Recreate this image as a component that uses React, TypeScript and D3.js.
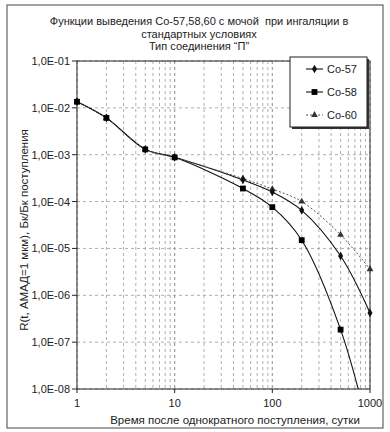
import React from 'react';
import * as d3 from 'd3';

const days = [1, 2, 5, 10, 50, 100, 200, 500, 1000];
const co57 = [0.0135, 0.0061, 0.0013, 0.00088, 2.9e-4, 1.6e-4, 6.5e-5, 6.9e-6, 4.2e-7];
const co58 = [0.0135, 0.0061, 0.0013, 0.00088, 1.9e-4, 7.6e-5, 1.5e-5, 1.85e-7, 1e-9];
const co60 = [0.0135, 0.0061, 0.0013, 0.00088, 3.1e-4, 1.85e-4, 1.0e-4, 1.95e-5, 3.6e-6];
const seriesNames = ['Co-57', 'Co-58', 'Co-60'];
const yTickLabels = ['1,0E-01', '1,0E-02', '1,0E-03', '1,0E-04', '1,0E-05', '1,0E-06', '1,0E-07', '1,0E-08'];
const xTickLabels = ['1', '10', '100', '1000'];
const titleLines = [
  'Функции выведения Co-57,58,60 с мочой  при ингаляции в',
  'стандартных условиях',
  'Тип соединения “П”',
];
const xTitle = 'Время после однократного поступления, сутки';
const yTitle = 'R(t, АМАД=1 мкм), Бк/Бк поступления';

const W = 390;
const H = 432;
const plot = { left: 77, right: 370, top: 61, bottom: 389 };
const font = '"Liberation Sans", Arial, sans-serif';

const App = () => {
  const x = d3.scaleLog().domain([1, 1000]).range([plot.left, plot.right]);
  const y = d3.scaleLog().domain([1e-8, 1e-1]).range([plot.bottom, plot.top]);

  const line = d3
    .line<number>()
    .x((_, i) => x(days[i]))
    .y(d => y(d))
    .curve(d3.curveCatmullRom);

  const minorX: number[] = [];
  [1, 10, 100].forEach(dec => {
    for (let k = 1; k <= 10; k++) minorX.push(dec * k);
  });
  const decadesY = yTickLabels.map((_, i) => Math.pow(10, -1 - i));

  const diamond = d3.symbol().type(d3.symbolDiamond).size(22)() as string;
  const square = d3.symbol().type(d3.symbolSquare).size(34)() as string;
  const triangle = d3.symbol().type(d3.symbolTriangle).size(20)() as string;

  const series = [
    { name: seriesNames[0], data: co57, stroke: '#111', dash: null, width: 1.1, marker: diamond, fill: '#111' },
    { name: seriesNames[1], data: co58, stroke: '#111', dash: null, width: 1.1, marker: square, fill: '#000' },
    { name: seriesNames[2], data: co60, stroke: '#555', dash: '2,2', width: 1, marker: triangle, fill: '#333' },
  ];

  return (
    <svg
      width={W}
      height={H}
      style={{ position: 'absolute', left: 0, top: 0, background: '#fff' }}
      fontFamily={font}
    >
      <defs>
        <clipPath id="plotClip">
          <rect x={plot.left} y={plot.top} width={plot.right - plot.left} height={plot.bottom - plot.top} />
        </clipPath>
      </defs>

      {/* outer frame */}
      <rect x={7} y={5} width={376} height={423} fill="none" stroke="#444" strokeWidth={1} />

      {/* title */}
      {titleLines.map((t, i) => (
        <text
          key={t}
          x={199}
          y={25 + i * 12.7}
          textAnchor="middle"
          fontSize={11}
          fill="#222"
          style={{ whiteSpace: 'pre' }}
        >
          {t}
        </text>
      ))}

      {/* grid */}
      <g stroke="#999" strokeWidth={0.8} strokeDasharray="3,3">
        {minorX.map(v => (
          <line key={'gx' + v} x1={x(v)} x2={x(v)} y1={plot.top} y2={plot.bottom} />
        ))}
        {decadesY.map(v => (
          <line key={'gy' + v} x1={plot.left} x2={plot.right} y1={y(v)} y2={y(v)} />
        ))}
      </g>

      {/* plot border */}
      <rect
        x={plot.left}
        y={plot.top}
        width={plot.right - plot.left}
        height={plot.bottom - plot.top}
        fill="none"
        stroke="#222"
        strokeWidth={1}
      />

      {/* y axis ticks */}
      {decadesY.map((v, i) => (
        <g key={'ty' + i}>
          <line x1={plot.left - 5} x2={plot.left} y1={y(v)} y2={y(v)} stroke="#222" />
          <text x={plot.left - 7} y={y(v) + 4} textAnchor="end" fontSize={11} fill="#222">
            {yTickLabels[i]}
          </text>
        </g>
      ))}

      {/* x axis ticks */}
      {xTickLabels.map(t => (
        <g key={'tx' + t}>
          <line x1={x(+t)} x2={x(+t)} y1={plot.bottom} y2={plot.bottom + 4} stroke="#222" />
          <text x={x(+t)} y={plot.bottom + 18} textAnchor="middle" fontSize={11} fill="#222">
            {t}
          </text>
        </g>
      ))}

      <text x={235} y={424} textAnchor="middle" fontSize={11.5} fill="#222">
        {xTitle}
      </text>
      <text
        transform={`translate(28 ${230}) rotate(-90)`}
        textAnchor="middle"
        fontSize={11.5}
        fill="#222"
      >
        {yTitle}
      </text>

      {/* series */}
      <g clipPath="url(#plotClip)">
        {series.map(s => (
          <path
            key={'l' + s.name}
            d={line(s.data) as string}
            fill="none"
            stroke={s.stroke}
            strokeWidth={s.width}
            strokeDasharray={s.dash ?? undefined}
          />
        ))}
      </g>
      {[series[2], series[0], series[1]].map(s => (
        <g key={'m' + s.name}>
          {s.data.map((d, i) =>
            d >= 1e-8 ? (
              <path key={i} d={s.marker} transform={`translate(${x(days[i])} ${y(d)})`} fill={s.fill} />
            ) : null
          )}
        </g>
      ))}

      {/* legend */}
      <rect x={292} y={59} width={77} height={70} fill="#333" />
      <rect x={290} y={57} width={77} height={70} fill="#fff" stroke="#222" strokeWidth={1} />
      {series.map((s, i) => {
        const ly = 69 + i * 23;
        return (
          <g key={'lg' + s.name}>
            <line
              x1={306}
              x2={323}
              y1={ly}
              y2={ly}
              stroke={s.stroke}
              strokeWidth={s.width}
              strokeDasharray={s.dash ?? undefined}
            />
            <path d={s.marker} transform={`translate(314.5 ${ly})`} fill={s.fill} />
            <text x={327} y={ly + 4} fontSize={11} fill="#222">
              {s.name}
            </text>
          </g>
        );
      })}
    </svg>
  );
};

export default App;
